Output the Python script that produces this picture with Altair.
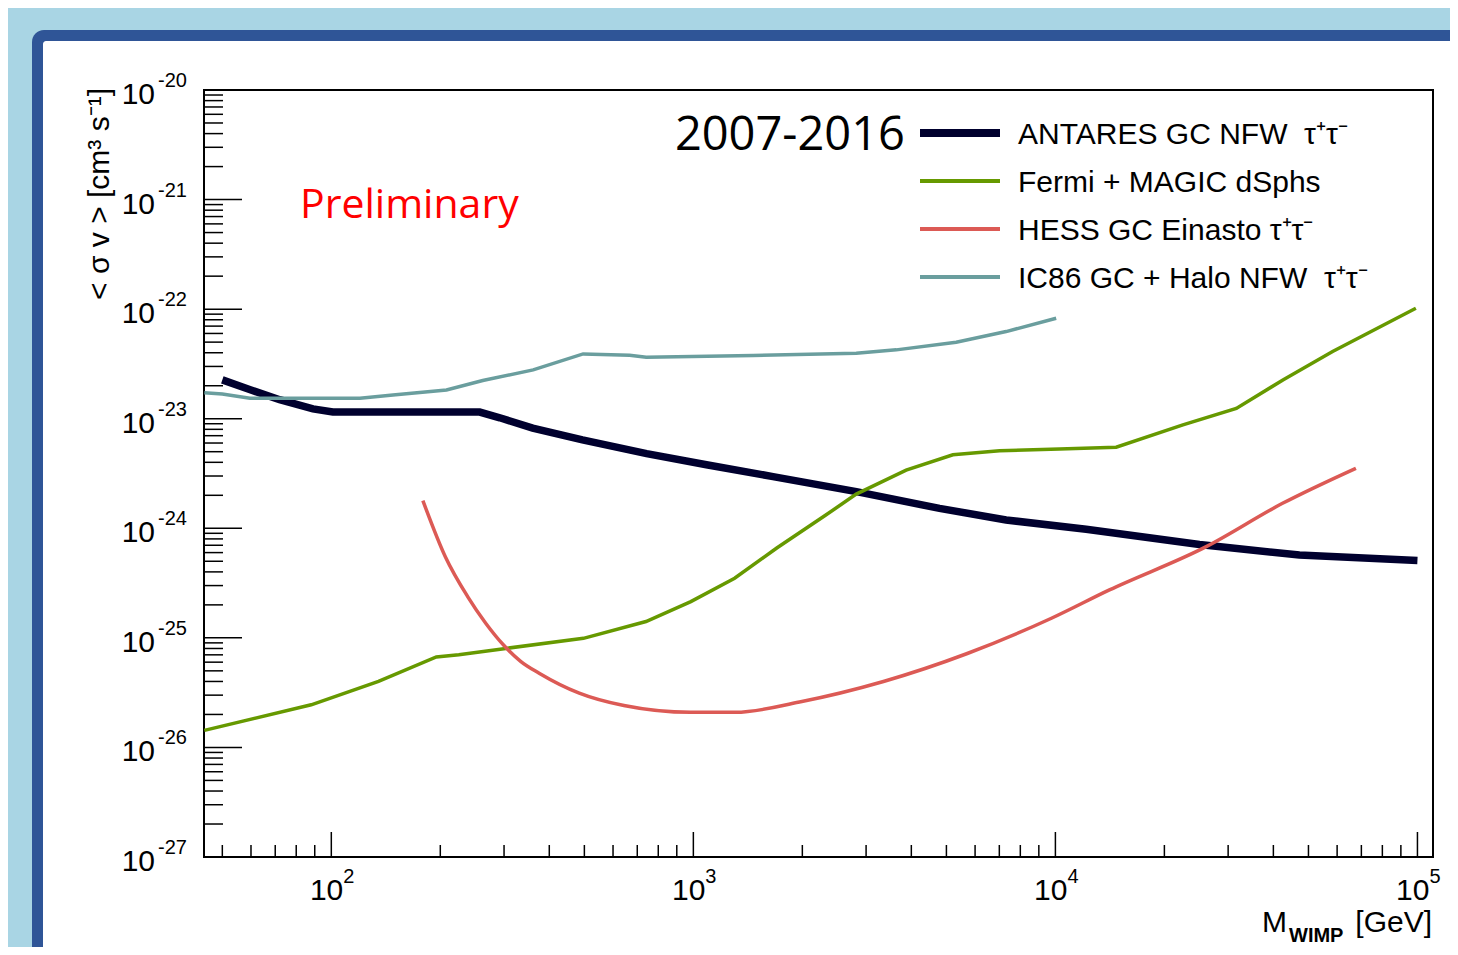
import altair as alt
import pandas as pd

# ---------------- data ----------------
antares_m = [50, 60, 72, 89, 101, 257, 292, 360, 494, 743, 1087, 1660, 2820,
             4786, 7310, 12160, 25000, 47200, 100000]
antares_sv = [2.26e-23, 1.83e-23, 1.49e-23, 1.23e-23, 1.15e-23, 1.15e-23, 1.02e-23,
              8.2e-24, 6.4e-24, 4.8e-24, 3.8e-24, 2.96e-24, 2.16e-24, 1.52e-24,
              1.19e-24, 9.8e-25, 7.1e-25, 5.7e-25, 5.07e-25]

fermi_m = [44.6, 88, 135, 195, 225, 307, 497, 740, 984, 1300, 1700, 2306, 2818, 3870,
           5210, 7010, 10260, 14720, 22500, 31600, 42500, 58300, 99000]
fermi_sv = [1.43e-26, 2.45e-26, 4.0e-26, 6.7e-26, 7.0e-26, 8.05e-26, 9.9e-26,
            1.41e-25, 2.14e-25, 3.5e-25, 6.6e-25, 1.3e-24, 2.05e-24, 3.4e-24, 4.68e-24,
            5.1e-24, 5.3e-24, 5.5e-24, 8.8e-24, 1.24e-23, 2.26e-23, 4.1e-23, 1.02e-22]

hess_m = [179, 206.5, 238, 267, 299, 334, 375, 484, 643, 984, 1306,
          1964, 3350, 5710, 9750, 14100, 26100, 42400, 67600]
hess_sv = [1.79e-24, 5.5e-25, 2.38e-25, 1.36e-25, 8.6e-26,
           6.08e-26, 4.76e-26, 3.13e-26, 2.41e-26, 2.09e-26, 2.09e-26, 2.6e-26,
           4.0e-26, 7.2e-26, 1.51e-25, 2.74e-25, 6.8e-25, 1.69e-24, 3.53e-24]

ic86_m = [44.6, 50, 59.6, 120, 148, 208, 262, 361, 496, 667, 741, 1462, 2818,
          3635, 5320, 7310, 10050]
ic86_sv = [1.73e-23, 1.68e-23, 1.54e-23, 1.54e-23, 1.65e-23, 1.83e-23, 2.23e-23,
           2.79e-23, 3.9e-23, 3.8e-23, 3.64e-23, 3.77e-23, 3.96e-23, 4.25e-23,
           4.99e-23, 6.24e-23, 8.26e-23]

series_names = ["ANTARES GC NFW\u00a0\u00a0\u03c4\u207a\u03c4\u207b",
                "Fermi + MAGIC dSphs",
                "HESS GC Einasto \u03c4\u207a\u03c4\u207b",
                "IC86 GC + Halo NFW\u00a0\u00a0\u03c4\u207a\u03c4\u207b"]
series_colors = ["#00002e", "#669900", "#dc5a55", "#6a9e9e"]
series_widths = [7.5, 3.5, 3.5, 3.5]

y_exps = [-27, -26, -25, -24, -23, -22, -21, -20]
x_exps = [2, 3, 4, 5]
minor_mult = [2, 3, 4, 5, 6, 7, 8, 9]

X_DOMAIN = [44.5, 110400]
Y_DOMAIN = [1e-27, 1e-20]

W, H = 1229, 767
FONT = "Liberation Sans"

XS = alt.Scale(type="log", domain=X_DOMAIN, nice=False)
YS = alt.Scale(type="log", domain=Y_DOMAIN, nice=False)


def X():
    return alt.X("m:Q", scale=XS, axis=None)


def Y():
    return alt.Y("sv:Q", scale=YS, axis=None)


one = pd.DataFrame({"a": [0]})
layers = []

# ---------------- slide decoration ----------------
layers.append(alt.Chart(one).mark_rect(fill="#2f5597", cornerRadius=12).encode(
    x=alt.value(-172), x2=alt.value(W + 40), y=alt.value(-60), y2=alt.value(H + 110)))
layers.append(alt.Chart(one).mark_rect(fill="white", cornerRadius=3).encode(
    x=alt.value(-161), x2=alt.value(W + 40), y=alt.value(-49), y2=alt.value(H + 110)))
layers.append(alt.Chart(one).mark_rect(fill=None, fillOpacity=0, stroke="black", strokeWidth=2).encode(
    x=alt.value(0), x2=alt.value(W), y=alt.value(0), y2=alt.value(H)))

# ---------------- ticks (inside the frame, ROOT style) ----------------
y_major = pd.DataFrame({"sv": [10.0 ** e for e in y_exps], "e": [str(e) for e in y_exps]})
y_minor = pd.DataFrame({"sv": [k * 10.0 ** e for e in y_exps[:-1] for k in minor_mult]})
x_major = pd.DataFrame({"m": [10.0 ** e for e in x_exps], "e": [str(e) for e in x_exps]})
x_minor_vals = [k * 10.0 ** e for e in [1, 2, 3, 4] for k in minor_mult]
x_minor = pd.DataFrame({"m": [v for v in x_minor_vals if X_DOMAIN[0] < v < X_DOMAIN[1]]})

layers.append(alt.Chart(y_major).mark_rule(color="black", strokeWidth=1.5).encode(
    y=Y(), x=alt.value(0), x2=alt.value(38)))
layers.append(alt.Chart(y_minor).mark_rule(color="black", strokeWidth=1.5).encode(
    y=Y(), x=alt.value(0), x2=alt.value(19)))
layers.append(alt.Chart(x_major).mark_rule(color="black", strokeWidth=1.5).encode(
    x=X(), y=alt.value(H), y2=alt.value(H - 25)))
layers.append(alt.Chart(x_minor).mark_rule(color="black", strokeWidth=1.5).encode(
    x=X(), y=alt.value(H), y2=alt.value(H - 12)))

# tick labels 10^n
layers.append(alt.Chart(y_major).mark_text(align="right", baseline="alphabetic", font=FONT,
                                           fontSize=30, dy=14, color="black").encode(
    y=Y(), x=alt.value(-49), text=alt.value("10")))
layers.append(alt.Chart(y_major).mark_text(align="left", baseline="alphabetic", font=FONT,
                                           fontSize=20, dy=-3, color="black").encode(
    y=Y(), x=alt.value(-46), text="e:N"))
layers.append(alt.Chart(x_major).mark_text(align="right", baseline="alphabetic", font=FONT,
                                           fontSize=30, dx=12, color="black").encode(
    x=X(), y=alt.value(H + 43), text=alt.value("10")))
layers.append(alt.Chart(x_major).mark_text(align="left", baseline="alphabetic", font=FONT,
                                           fontSize=20, dx=12, color="black").encode(
    x=X(), y=alt.value(H + 26), text="e:N"))

# axis titles
layers.append(alt.Chart(one).mark_text(align="right", baseline="middle", angle=270, font=FONT,
                                       fontSize=30, color="black").encode(
    x=alt.value(-104), y=alt.value(-2), text=alt.value("< \u03c3 v > [cm\u00b3 s\u207b\u00b9]")))
layers.append(alt.Chart(one).mark_text(align="right", baseline="alphabetic", font=FONT,
                                       fontSize=30, color="black").encode(
    x=alt.value(W - 1), y=alt.value(H + 75), text=alt.value("[GeV]")))
layers.append(alt.Chart(one).mark_text(align="right", baseline="alphabetic", font=FONT,
                                       fontSize=30, color="black").encode(
    x=alt.value(1083), y=alt.value(H + 75), text=alt.value("M")))
layers.append(alt.Chart(one).mark_text(align="left", baseline="alphabetic", font=FONT,
                                       fontSize=20, fontWeight="bold", color="black").encode(
    x=alt.value(1085), y=alt.value(H + 85), text=alt.value("WIMP")))

# ---------------- curves ----------------
curves = [(antares_m, antares_sv, "linear"), (fermi_m, fermi_sv, "linear"),
          (hess_m, hess_sv, "monotone"), (ic86_m, ic86_sv, "linear")]
for i, (mm, ss, interp) in enumerate(curves):
    df = pd.DataFrame({"m": mm, "sv": ss})
    layers.append(alt.Chart(df).mark_line(color=series_colors[i], strokeWidth=series_widths[i],
                                          interpolate=interp).encode(x=X(), y=Y()))

# ---------------- legend & annotations ----------------
row_y = [43, 91, 139, 187]
for i, name in enumerate(series_names):
    layers.append(alt.Chart(one).mark_rule(color=series_colors[i],
                                           strokeWidth=series_widths[i] + 0.5).encode(
        x=alt.value(716), x2=alt.value(796), y=alt.value(row_y[i])))
    layers.append(alt.Chart(one).mark_text(align="left", baseline="alphabetic", font=FONT,
                                           fontSize=30, color="black").encode(
        x=alt.value(814), y=alt.value(row_y[i] + 11), text=alt.value(name)))

layers.append(alt.Chart(one).mark_text(align="right", baseline="alphabetic", font="Open Sans",
                                       fontSize=47, color="black").encode(
    x=alt.value(701), y=alt.value(60), text=alt.value("2007-2016")))
layers.append(alt.Chart(one).mark_text(align="left", baseline="alphabetic", font="Open Sans",
                                       fontSize=41, color="#ff0000").encode(
    x=alt.value(96), y=alt.value(128), text=alt.value("Preliminary")))

chart = alt.layer(*layers).properties(
    width=W, height=H,
    padding={"left": 196, "top": 82, "right": 17, "bottom": 90},
    autosize=alt.AutoSizeParams(type="none"),
    background="#a9d5e4",
).configure_view(strokeWidth=0)

chart.save("out.html", embed_options={"renderer": "svg", "actions": False})
